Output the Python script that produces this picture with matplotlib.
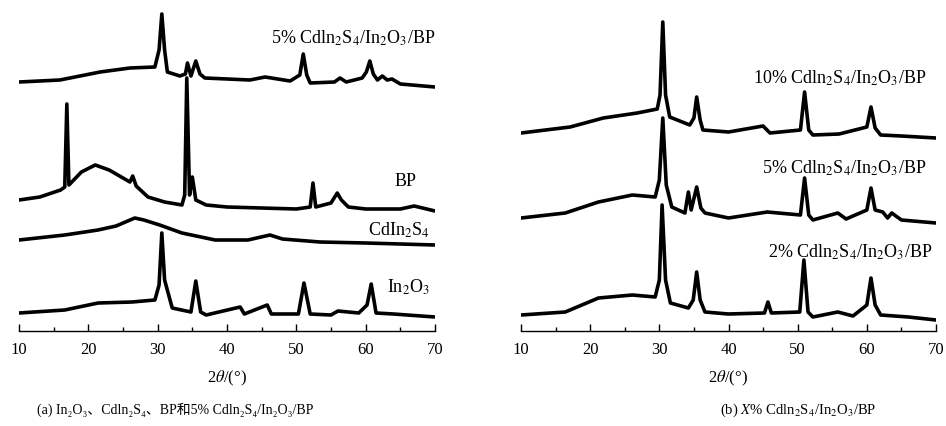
import matplotlib
matplotlib.use("Agg")
import matplotlib.pyplot as plt
from matplotlib.ticker import MultipleLocator

plt.rcParams["font.family"] = ["Liberation Serif", "DejaVu Serif", "Noto Sans CJK SC"]
plt.rcParams["mathtext.fontset"] = "stix"

# ---- panel (a): In2O3, CdIn2S4, BP, 5% composite (intensity, a.u.) ----
in2o3_x = [10, 16.6, 21.4, 26.3, 29.6, 30.2, 30.6, 31.0, 32.1, 34.8, 35.5, 36.2, 37, 41.9, 42.5,
           45.8, 46.4, 50.3, 51.1, 52.0, 55, 56, 59, 60.2, 60.8, 61.5, 64, 70]
in2o3_y = [7, 10, 17, 18, 20, 35, 87, 40, 12, 8, 39, 8, 5, 13, 6,
           15, 6, 6, 37, 6, 5, 9, 7, 15, 36, 7, 6, 3]

cis_x = [10, 16.6, 21.4, 24, 26.7, 28, 30.3, 33.5, 38.3, 43, 46.2, 48, 53.4, 60, 70]
cis_y = [10, 15, 20, 24, 32, 30, 25, 17, 10, 10, 15, 11, 8, 7, 5]

bp_x = [10, 13, 16.0, 16.6, 16.9, 17.2, 19, 21, 23, 25, 26.0, 26.4, 26.9, 28.6, 31, 33.5, 33.9,
        34.2, 34.6, 35.0, 35.5, 37, 40, 45, 50, 52.0, 52.4, 52.8, 55, 55.9, 56.5, 57.5, 60, 65, 67, 70]
bp_y = [15, 18, 25, 28, 111, 30, 43, 50, 45, 37, 33, 39, 29, 18, 13, 10, 20,
        137, 20, 38, 15, 10, 8, 7, 6, 8, 32, 8, 12, 22, 15, 8, 6, 6, 9, 4]

c5a_x = [10, 15.9, 21.7, 26, 29.6, 30.2, 30.6, 31.0, 31.4, 33.2, 34.0, 34.3, 34.8, 35.5, 36.1, 36.8,
         43.3, 45.5, 49.1, 50.5, 51.0, 51.5, 52, 55.5, 56.3, 57.2, 59.5, 60.1, 60.6, 61.1, 61.7,
         62.4, 63.1, 63.8, 65, 70]
c5a_y = [8, 10, 18, 22, 23, 40, 76, 40, 18, 14, 16, 27, 14, 29, 16, 12,
         10, 13, 9, 15, 36, 15, 7, 8, 12, 8, 12, 18, 29, 16, 10,
         14, 10, 11, 6, 3]

# ---- panel (b): X% composites ----
c2_x = [10, 16.4, 21.2, 26.1, 29.4, 30.0, 30.4, 30.9, 31.6, 34.2, 34.9, 35.4, 35.9, 36.6, 40,
        45.2, 45.7, 46.2, 50.3, 50.9, 51.5, 52.2, 55.8, 58, 60.0, 60.6, 61.2, 62, 66, 70]
c2_y = [8, 11, 25, 28, 26, 43, 118, 43, 20, 15, 23, 51, 23, 11, 9,
        10, 21, 10, 11, 63, 11, 6, 11, 7, 18, 45, 18, 8, 6, 3]

c5b_x = [10, 16.4, 21.2, 26.1, 29.4, 30.0, 30.5, 31.0, 31.8, 33.7, 34.2, 34.6, 35.4, 36.0, 36.6,
         40, 45.6, 50.4, 51.0, 51.6, 52.2, 55.8, 57, 60.0, 60.6, 61.2, 62.3, 63.0, 63.6, 65, 70]
c5b_y = [8, 13, 24, 31, 29, 46, 108, 41, 19, 13, 34, 16, 39, 18, 13,
         8, 14, 11, 48, 11, 6, 13, 7, 16, 38, 16, 14, 8, 13, 6, 3]

c10_x = [10, 17.1, 21.9, 26.8, 29.7, 30.1, 30.5, 30.9, 31.5, 34.4, 35.0, 35.4, 35.9, 36.3, 40,
         45.0, 46, 50.4, 51.0, 51.6, 52.2, 56, 60.0, 60.6, 61.2, 62, 65, 70]
c10_y = [8, 14, 23, 28, 32, 46, 119, 46, 24, 16, 23, 44, 21, 11, 9,
         15, 8, 11, 49, 11, 6, 7, 14, 34, 13, 6, 5, 3]

lab_comp = "Cdln$_2$S$_4$/In$_2$O$_3$/BP"

fig = plt.figure(figsize=(9.46, 4.26), dpi=100)
ax1 = fig.add_axes([19 / 946, 95 / 426, 416 / 946, 323 / 426])
ax2 = fig.add_axes([521 / 946, 95 / 426, 415 / 946, 323 / 426])

lw = 2.6
ax1.plot(in2o3_x, [v + 11 for v in in2o3_y], color="black", lw=lw)
ax1.plot(cis_x, [v + 81 for v in cis_y], color="black", lw=lw)
ax1.plot(bp_x, [v + 116 for v in bp_y], color="black", lw=lw)
ax1.plot(c5a_x, [v + 241 for v in c5a_y], color="black", lw=lw)

ax2.plot(c2_x, [v + 8 for v in c2_y], color="black", lw=lw)
ax2.plot(c5b_x, [v + 105 for v in c5b_y], color="black", lw=lw)
ax2.plot(c10_x, [v + 190 for v in c10_y], color="black", lw=lw)

fs = 13
ax1.text(70, 293, "5% " + lab_comp, ha="right", va="center", fontsize=fs)
ax1.text(67.4, 149, "BP", ha="right", va="center", fontsize=fs)
ax1.text(69.3, 101, "CdIn$_2$S$_4$", ha="right", va="center", fontsize=fs)
ax1.text(69.3, 44, "In$_2$O$_3$", ha="right", va="center", fontsize=fs)

ax2.text(68.6, 253, "10% " + lab_comp, ha="right", va="center", fontsize=fs)
ax2.text(68.6, 163, "5% " + lab_comp, ha="right", va="center", fontsize=fs)
ax2.text(69.5, 79, "2% " + lab_comp, ha="right", va="center", fontsize=fs)

for ax in (ax1, ax2):
    ax.set_xlim(10, 70)
    ax.set_ylim(0, 323)
    for s in ("left", "right", "top"):
        ax.spines[s].set_visible(False)
    ax.spines["bottom"].set_linewidth(1.0)
    ax.set_yticks([])
    ax.xaxis.set_major_locator(MultipleLocator(10))
    ax.xaxis.set_minor_locator(MultipleLocator(5))
    ax.tick_params(axis="x", which="major", direction="in", length=5, width=1,
                   labelsize=12, pad=8)
    ax.tick_params(axis="x", which="minor", direction="in", length=3, width=1)

fig.text(227 / 946, 48 / 426, r"2$\theta$/(°)", ha="center", va="center", fontsize=12)
fig.text(728 / 946, 48 / 426, r"2$\theta$/(°)", ha="center", va="center", fontsize=12)

fig.text(175 / 946, 16 / 426,
         "(a) In₂O₃、Cdln₂S₄、BP和5% Cdln₂S₄/In₂O₃/BP",
         ha="center", va="center", fontsize=10)
fig.text(798 / 946, 16 / 426, "(b) $X$% " + lab_comp,
         ha="center", va="center", fontsize=10.5)

fig.savefig("out.png", dpi=100)
